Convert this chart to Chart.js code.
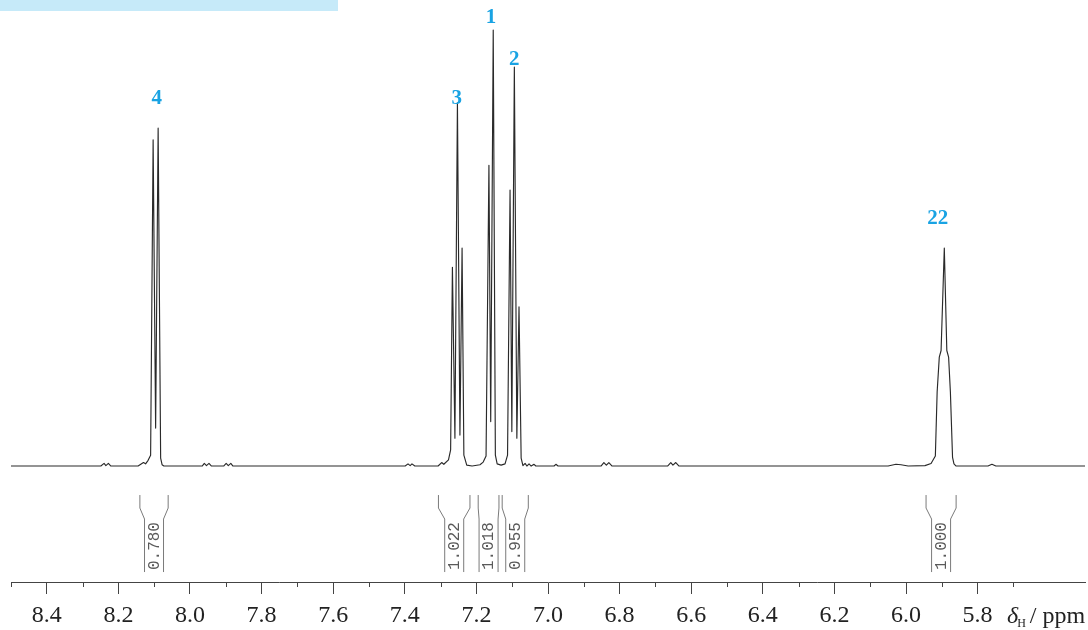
<!DOCTYPE html>
<html>
<head>
<meta charset="utf-8">
<script src="https://cdn.jsdelivr.net/npm/chart.js@4/dist/chart.umd.min.js"></script>
<style>
  html, body { margin: 0; padding: 0; background: #fff; }
  canvas { display: block; }
</style>
</head>
<body>
<canvas id="nmr" width="1088" height="630"></canvas>
<script>
// chemical shift (ppm) and intensity (tallest line = 100)
const shiftPpm = [
  8.500, 8.249, 8.240, 8.235, 8.228, 8.221,
  8.145, 8.130, 8.124, 8.117, 8.110, 8.103, 8.096, 8.089, 8.082, 8.078, 8.073,
  7.966, 7.960, 7.954, 7.947, 7.940,
  7.906, 7.899, 7.893, 7.886, 7.880,
  7.399, 7.391, 7.385, 7.380, 7.372,
  7.307, 7.297, 7.291, 7.278, 7.272, 7.267, 7.260, 7.253, 7.246, 7.240, 7.235, 7.227, 7.212,
  7.190, 7.181, 7.173, 7.165, 7.160, 7.153, 7.147, 7.142, 7.131,
  7.120, 7.113, 7.106, 7.101, 7.094, 7.087, 7.081, 7.075, 7.070,
  7.064, 7.059, 7.053, 7.047, 7.039, 7.034,
  6.983, 6.978, 6.972,
  6.852, 6.844, 6.837, 6.830, 6.821,
  6.666, 6.657, 6.651, 6.643, 6.634,
  6.050, 6.028, 6.014, 5.994,
  5.947, 5.930, 5.918, 5.913, 5.907, 5.902, 5.893, 5.886, 5.881, 5.876, 5.870, 5.866, 5.860,
  5.771, 5.760, 5.749, 5.500
];
const intensity = [
  0, 0, 0.6, 0.1, 0.6, 0,
  0, 0.8, 0.5, 1.3, 2.5, 74.8, 8.7, 77.5, 1.8, 0.3, 0,
  0, 0.6, 0.1, 0.6, 0,
  0, 0.6, 0.1, 0.6, 0,
  0, 0.5, 0.1, 0.5, 0,
  0, 0.8, 0.4, 1.4, 3.7, 45.6, 6.4, 83.3, 7.1, 50.0, 2.5, 0.2, 0,
  0.3, 0.9, 2.3, 69.0, 10.2, 100, 2.5, 0.5, 0.2,
  0.5, 2.5, 63.3, 7.9, 91.5, 6.4, 36.5, 1.8, 0.1,
  0.6, 0, 0.5, 0, 0.4, 0,
  0, 0.4, 0,
  0, 0.8, 0.2, 0.8, 0,
  0, 0.8, 0.2, 0.8, 0,
  0, 0.4, 0.3, 0,
  0.1, 0.6, 2.3, 17.0, 25.0, 26.5, 50.0, 26.5, 25.0, 17.0, 2.0, 0.5, 0,
  0, 0.4, 0, 0
];

const majorTicks = [8.4, 8.2, 8.0, 7.8, 7.6, 7.4, 7.2, 7.0, 6.8, 6.6, 6.4, 6.2, 6.0, 5.8];
const minorTicks = [8.5, 8.3, 8.1, 7.9, 7.7, 7.5, 7.3, 7.1, 6.9, 6.7, 6.5, 6.3, 6.1, 5.9, 5.7];

const peakLabels = ["4", "3", "1", "2", "22"];
const peakLabelPpm = [8.093, 7.255, 7.159, 7.094, 5.911];
const peakLabelInt = [84.4, 84.4, 102.9, 93.3, 56.7];

const integralFrom = [8.140, 7.306, 7.195, 7.128, 5.944];
const integralTo = [8.061, 7.218, 7.137, 7.055, 5.860];
const integralText = ["0.780", "1.022", "1.018", "0.955", "1.000"];

const SERIF = "'Liberation Serif', 'Times New Roman', Times, serif";
const MONO = "'Liberation Mono', 'Courier New', monospace";

const spectrumPoints = shiftPpm.map((x, i) => ({ x: x, y: intensity[i] }));

const decorPlugin = {
  id: "decor",
  beforeDraw(chart) {
    const ctx = chart.ctx;
    ctx.save();
    ctx.fillStyle = "#c6eaf9";
    ctx.fillRect(0, 0, 338, 11);
    ctx.restore();
  },
  afterDraw(chart) {
    const ctx = chart.ctx;
    const xs = chart.scales.x;
    const ys = chart.scales.y;
    const area = chart.chartArea;
    const y0 = ys.getPixelForValue(0);

    ctx.save();

    // minor ticks
    ctx.strokeStyle = "#444";
    ctx.lineWidth = 1;
    minorTicks.forEach(v => {
      const px = Math.round(xs.getPixelForValue(v)) + 0.5;
      ctx.beginPath();
      ctx.moveTo(px, area.bottom);
      ctx.lineTo(px, area.bottom + 5);
      ctx.stroke();
    });

    // integration brackets
    ctx.strokeStyle = "#7a7a7a";
    integralFrom.forEach((from, i) => {
      const l = xs.getPixelForValue(from);
      const r = xs.getPixelForValue(integralTo[i]);
      const c = (l + r) / 2;
      const il = Math.max(l, c - 9.5);
      const ir = Math.min(r, c + 9.5);
      ctx.beginPath();
      ctx.moveTo(l, y0 + 29);
      ctx.lineTo(l, y0 + 42);
      ctx.lineTo(il, y0 + 53);
      ctx.lineTo(il, y0 + 106);
      ctx.moveTo(r, y0 + 29);
      ctx.lineTo(r, y0 + 42);
      ctx.lineTo(ir, y0 + 53);
      ctx.lineTo(ir, y0 + 106);
      ctx.stroke();

      ctx.save();
      ctx.translate(c + 0.5, y0 + 80);
      ctx.rotate(-Math.PI / 2);
      ctx.fillStyle = "#5a5a5a";
      ctx.font = "16px " + MONO;
      ctx.textAlign = "center";
      ctx.textBaseline = "middle";
      ctx.fillText(integralText[i], 0, 0);
      ctx.restore();
    });

    // peak labels
    ctx.fillStyle = "#19a3e3";
    ctx.font = "bold 21px " + SERIF;
    ctx.textAlign = "center";
    ctx.textBaseline = "middle";
    peakLabels.forEach((t, i) => {
      ctx.fillText(t, xs.getPixelForValue(peakLabelPpm[i]), ys.getPixelForValue(peakLabelInt[i]));
    });

    // axis title: delta_H / ppm
    const base = area.bottom + 41;
    ctx.fillStyle = "#222";
    ctx.textAlign = "left";
    ctx.textBaseline = "alphabetic";
    let x = 1007;
    ctx.font = "italic 24px " + SERIF;
    ctx.fillText("\u03b4", x, base);
    x += ctx.measureText("\u03b4").width - 1;
    ctx.font = "12px " + SERIF;
    ctx.fillText("H", x, base + 4);
    x += ctx.measureText("H").width + 4;
    ctx.font = "24px " + SERIF;
    ctx.fillText("/ ppm", x, base);

    ctx.restore();
  }
};

function drawChart() {
  new Chart(document.getElementById("nmr"), {
    type: "scatter",
    data: {
      datasets: [{
        data: spectrumPoints,
        showLine: true,
        borderColor: "#2a2a2a",
        borderWidth: 1.15,
        borderJoinStyle: "round",
        pointRadius: 0,
        tension: 0
      }]
    },
    options: {
      responsive: false,
      animation: false,
      devicePixelRatio: 1,
      layout: { padding: { left: 11, right: 3, top: 0, bottom: 0 } },
      plugins: {
        legend: { display: false },
        tooltip: { enabled: false }
      },
      scales: {
        x: {
          type: "linear",
          reverse: true,
          min: 5.5,
          max: 8.5,
          afterBuildTicks: scale => {
            scale.ticks = majorTicks.map(v => ({ value: v }));
          },
          afterFit: scale => {
            scale.height = 48;
          },
          border: { display: true, color: "#444", width: 1 },
          grid: { drawOnChartArea: false, drawTicks: true, tickLength: 12, tickColor: "#444", color: "#444" },
          ticks: {
            autoSkip: false,
            maxRotation: 0,
            padding: 7,
            color: "#222",
            font: { family: SERIF, size: 24 },
            callback: value => Number(value).toFixed(1)
          }
        },
        y: {
          display: false,
          min: -26.6,
          max: 106.9
        }
      }
    },
    plugins: [decorPlugin]
  });
}

Promise.all([
  document.fonts.load("24px 'Liberation Serif'"),
  document.fonts.load("italic 24px 'Liberation Serif'"),
  document.fonts.load("bold 21px 'Liberation Serif'"),
  document.fonts.load("16px 'Liberation Mono'")
]).then(drawChart, drawChart);
</script>
</body>
</html>
